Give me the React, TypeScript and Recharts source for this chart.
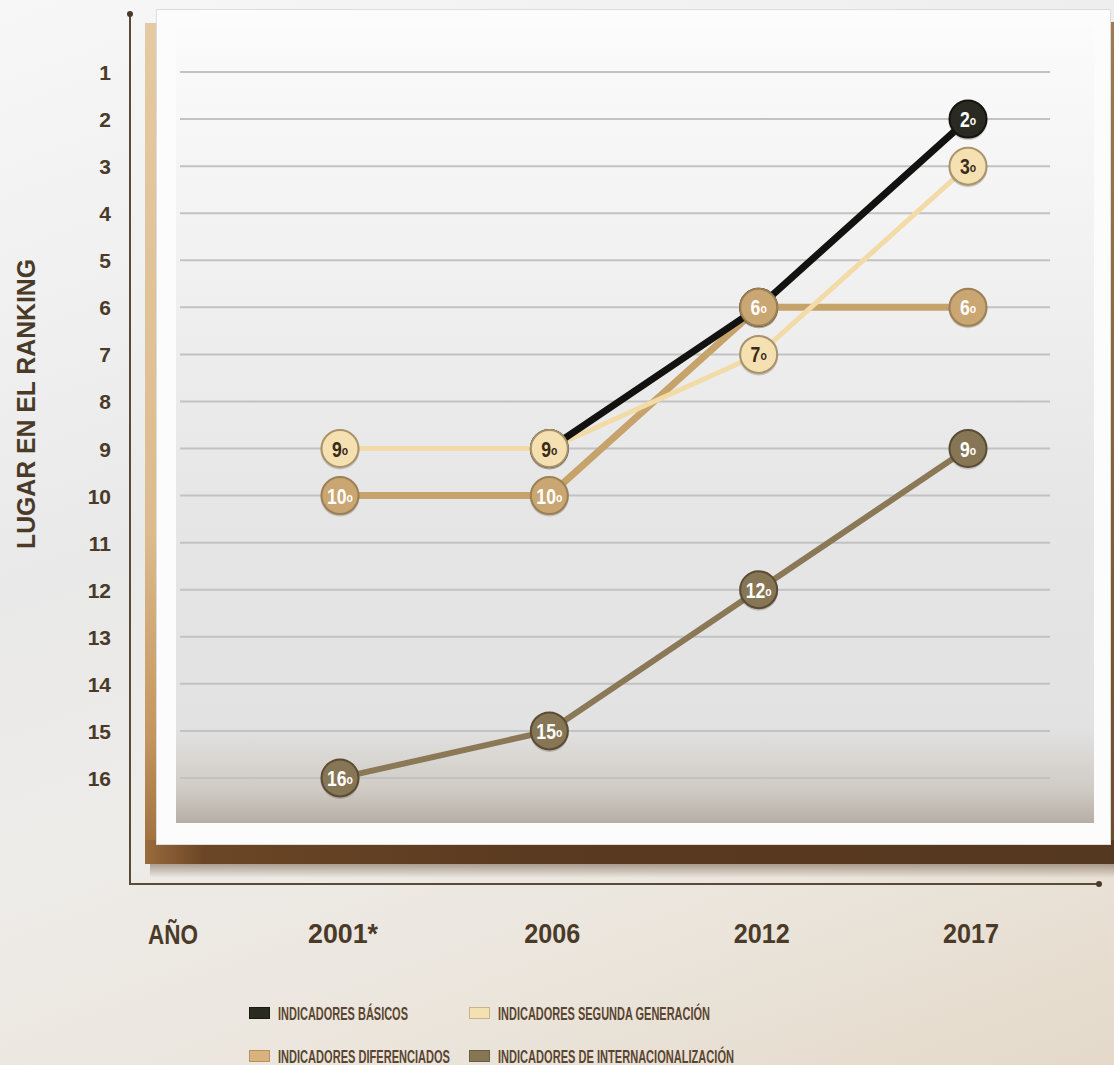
import React from 'react';
import { LineChart, Line, XAxis, YAxis, CartesianGrid } from 'recharts';

const years = ['2001*', '2006', '2012', '2017'];
const basicos = [null, 9, 6, 2];
const segunda = [9, 9, 7, 3];
const diferenciados = [10, 10, 6, 6];
const internacional = [16, 15, 12, 9];
const rankTicks = [1, 2, 3, 4, 5, 6, 7, 8, 9, 10, 11, 12, 13, 14, 15, 16];

const legendItems = [
  { label: 'INDICADORES BÁSICOS', color: '#2a2a1f', border: '#1a1a12', len: 130 },
  { label: 'INDICADORES SEGUNDA GENERACIÓN', color: '#f4e1b2', border: '#c9b48a', len: 212 },
  { label: 'INDICADORES DIFERENCIADOS', color: '#d9b27f', border: '#b8905c', len: 172 },
  { label: 'INDICADORES DE INTERNACIONALIZACIÓN', color: '#877655', border: '#6a5c40', len: 236 },
];

const data = years.map((y, i) => ({
  year: y,
  basicos: basicos[i],
  segunda: segunda[i],
  diferenciados: diferenciados[i],
  internacional: internacional[i],
}));

const SANS = "'Liberation Sans', Arial, Helvetica, sans-serif";
const TEXT = '#4a3a28';
const LEGEND_SCALE = 0.62;

const makeDot = (key: string, fill: string, stroke: string, textColor: string) => (props: any) => {
  const { cx, cy, payload, index } = props;
  const v = payload ? payload[key] : null;
  if (v == null || cx == null || cy == null || isNaN(cy)) return <g key={`${key}-e-${index}`} />;
  return (
    <g key={`${key}-${index}`}>
      <circle cx={cx} cy={cy + 1.5} r={19.5} fill="rgba(60,45,30,0.22)" />
      <circle cx={cx} cy={cy} r={18.5} fill={fill} stroke={stroke} strokeWidth={2} />
      <text
        transform={`translate(${cx},${cy + 8}) scale(0.8,1)`}
        x={0}
        y={0}
        textAnchor="middle"
        fontFamily={SANS}
        fontWeight={700}
        fontSize={22}
        fill={textColor}
      >
        {String(v)}
        <tspan fontSize={13} dy={-2}>o</tspan>
      </text>
    </g>
  );
};

const YTick = (props: any) => {
  const { x, y, payload } = props;
  return (
    <text
      x={x - 69}
      y={y + 8}
      textAnchor="end"
      fontFamily={SANS}
      fontWeight={700}
      fontSize={21}
      fill={TEXT}
    >
      {payload.value}
    </text>
  );
};

const XTick = (props: any) => {
  const { x, y, payload } = props;
  const label = String(payload.value);
  return (
    <text
      x={x + 3}
      y={y + 118}
      textAnchor="middle"
      fontFamily={SANS}
      fontWeight={700}
      fontSize={28}
      fill={TEXT}
      textLength={label.length * 14}
      lengthAdjust="spacingAndGlyphs"
    >
      {label}
    </text>
  );
};

export default function App() {
  return (
    <div
      style={{
        position: 'absolute',
        left: 0,
        top: 0,
        width: 1114,
        height: 1065,
        overflow: 'hidden',
        background:
          'linear-gradient(160deg, #f7f7f7 0%, #efefef 25%, #e9e9e9 40%, #eeece9 60%, #ebe5dc 80%, #e4d9c9 100%)',
      }}
    >
      {/* decorative card */}
      <div style={{ position: 'absolute', left: 1104, top: 22, width: 10, height: 842, background: 'linear-gradient(180deg,#a07a50,#6d4c2c)' }} />
      <div style={{ position: 'absolute', left: 145, top: 23, width: 14, height: 840, background: 'linear-gradient(180deg,#e4caa2 0%,#dcbc8e 60%,#c4955e 85%,#9a6a3a 100%)' }} />
      <div style={{ position: 'absolute', left: 145, top: 840, width: 969, height: 24, background: 'linear-gradient(90deg,#9a6b3c 0%,#6b4626 6%,#5a3a20 40%,#553820 100%)' }} />
      <div style={{ position: 'absolute', left: 150, top: 864, width: 964, height: 14, background: 'linear-gradient(180deg,rgba(90,65,40,0.45),rgba(90,65,40,0))' }} />
      <div style={{ position: 'absolute', left: 157, top: 10, width: 953, height: 834, background: '#fcfcfc', boxShadow: '0 0 0 1px #dcdcdc' }} />
      <div
        style={{
          position: 'absolute',
          left: 176,
          top: 26,
          width: 918,
          height: 797,
          background:
            'linear-gradient(180deg,#fbfbfb 0%,#f1f1f1 30%,#e6e6e6 60%,#e2e2e2 88%,#cfcac3 96%,#b5aea5 100%)',
        }}
      />
      {/* axis lines */}
      <div style={{ position: 'absolute', left: 129, top: 13, width: 2, height: 872, background: '#5a4a38' }} />
      <div style={{ position: 'absolute', left: 127, top: 11, width: 6, height: 6, borderRadius: 3, background: '#4a3a28' }} />
      <div style={{ position: 'absolute', left: 129, top: 883, width: 970, height: 2, background: '#5a4a38' }} />
      <div style={{ position: 'absolute', left: 1096, top: 881, width: 6, height: 6, borderRadius: 3, background: '#4a3a28' }} />

      <div style={{ position: 'absolute', left: 0, top: 0 }}>
        <LineChart
          width={1114}
          height={1065}
          data={data}
          margin={{ top: 25, right: 64, bottom: 180, left: 80 }}
        >
          <CartesianGrid horizontal vertical={false} horizontalValues={rankTicks} stroke="#c2c2c2" strokeWidth={2} />
          <XAxis
            dataKey="year"
            type="category"
            padding={{ left: 160, right: 82 }}
            axisLine={false}
            tickLine={false}
            tickSize={0}
            tickMargin={0}
            height={60}
            tick={<XTick />}
            interval={0}
          />
          <YAxis
            type="number"
            reversed
            domain={[0, 17]}
            ticks={rankTicks}
            interval={0}
            axisLine={false}
            tickLine={false}
            tickSize={0}
            tickMargin={0}
            width={100}
            tick={<YTick />}
          />
          <Line dataKey="internacional" stroke="#8a7856" strokeWidth={6} dot={false} activeDot={false} isAnimationActive={false} />
          <Line dataKey="diferenciados" stroke="#c6a36b" strokeWidth={7} dot={false} activeDot={false} isAnimationActive={false} />
          <Line dataKey="segunda" stroke="#f2dba6" strokeWidth={5} dot={false} activeDot={false} isAnimationActive={false} />
          <Line dataKey="basicos" stroke="#121210" strokeWidth={7} dot={false} activeDot={false} isAnimationActive={false} />

          <Line dataKey="basicos" stroke="none" strokeWidth={0} dot={makeDot('basicos', '#2b2a22', '#15140f', '#ffffff')} activeDot={false} isAnimationActive={false} />
          <Line dataKey="segunda" stroke="none" strokeWidth={0} dot={makeDot('segunda', '#f4e0b1', '#a8936a', '#3a2a18')} activeDot={false} isAnimationActive={false} />
          <Line dataKey="diferenciados" stroke="none" strokeWidth={0} dot={makeDot('diferenciados', '#c9a672', '#9c8055', '#ffffff')} activeDot={false} isAnimationActive={false} />
          <Line dataKey="internacional" stroke="none" strokeWidth={0} dot={makeDot('internacional', '#877655', '#5a4c34', '#ffffff')} activeDot={false} isAnimationActive={false} />
        </LineChart>
      </div>

      {/* titles and legend */}
      <svg width={1114} height={1065} style={{ position: 'absolute', left: 0, top: 0, pointerEvents: 'none' }}>
        <text
          transform="translate(35,404) rotate(-90)"
          textAnchor="middle"
          fontFamily={SANS}
          fontWeight={700}
          fontSize={26}
          fill={TEXT}
          textLength={290}
          lengthAdjust="spacingAndGlyphs"
        >
          LUGAR EN EL RANKING
        </text>
        <text
          x={173}
          y={944}
          textAnchor="middle"
          fontFamily={SANS}
          fontWeight={700}
          fontSize={28}
          fill={TEXT}
          textLength={50}
          lengthAdjust="spacingAndGlyphs"
        >
          AÑO
        </text>
        {legendItems.map((item, i) => {
          const col = i % 2;
          const row = i < 2 ? 0 : 1;
          const left = col === 0 ? 249 : 469;
          const cy = row === 0 ? 1013 : 1056;
          return (
            <g key={item.label}>
              <rect x={left + 0.5} y={cy - 5.5} width={20} height={11} fill={item.color} stroke={item.border} strokeWidth={1} />
              <g transform={`translate(${left + 29},${cy + 6.5}) scale(${LEGEND_SCALE},1)`}>
                <text
                  x={0}
                  y={0}
                  fontFamily={SANS}
                  fontWeight={700}
                  fontSize={18}
                  fill="#5a4530"
                  textLength={item.len / LEGEND_SCALE}
                  lengthAdjust="spacingAndGlyphs"
                >
                  {item.label}
                </text>
              </g>
            </g>
          );
        })}
      </svg>
    </div>
  );
}
